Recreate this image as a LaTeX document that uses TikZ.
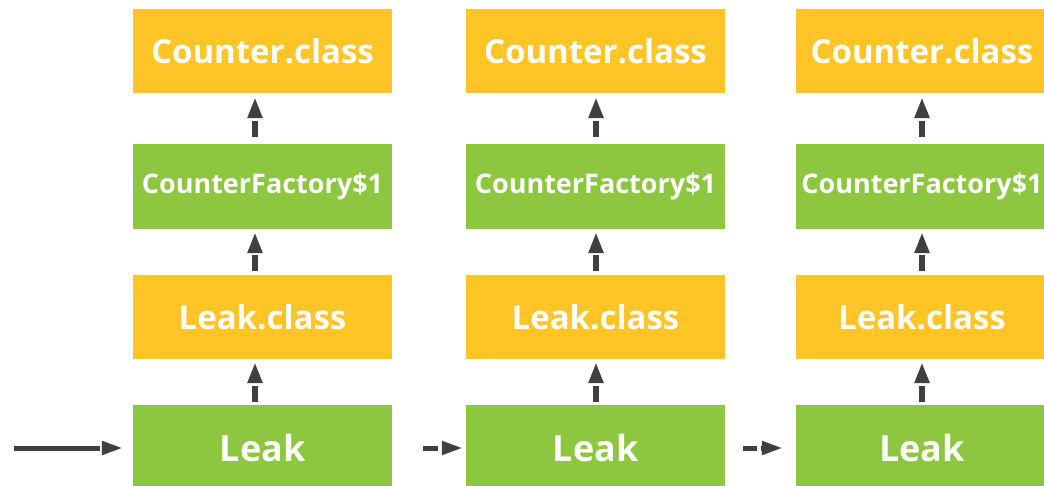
\documentclass[tikz,border=0pt]{standalone}
\usepackage{fontspec}
\setmainfont{Open Sans}
\usetikzlibrary{arrows.meta}
\definecolor{boxorange}{HTML}{FFC425}
\definecolor{boxgreen}{HTML}{8DC63F}
\definecolor{arrowgray}{HTML}{404043}
\tikzset{
  obox/.style={fill=boxorange, text=white, inner sep=0pt, font=\bfseries\fontsize{33}{36}\selectfont},
  gbox/.style={fill=boxgreen, text=white, inner sep=0pt},
  cftext/.style={font=\bfseries\fontsize{27}{30}\selectfont},
  leaktext/.style={font=\bfseries\fontsize{36}{40}\selectfont},
  refarrow/.style={draw=arrowgray, line width=6pt, dash pattern=on 16pt off 4pt,
     -{Triangle[length=21pt,width=14pt]}},
  harrow/.style={draw=arrowgray, line width=5pt,
     -{Triangle[length=21pt,width=13pt]}}
}
\begin{document}
\begin{tikzpicture}[x=1pt,y=-1pt]
\useasboundingbox (0,0) rectangle (1044,486);
% column 1
\node[obox, minimum width=259pt, minimum height=84pt] (cc1) at (262.5,51) {Counter.class};
\node[gbox, cftext, minimum width=259pt, minimum height=85pt] (cf1) at (262.5,186.5) {CounterFactory\$1};
\node[obox, minimum width=259pt, minimum height=84pt] (lc1) at (262.5,317) {Leak.class};
\node[gbox, leaktext, minimum width=259pt, minimum height=86pt] (lk1) at (262.5,448) {Leak};
% column 2
\node[obox, minimum width=259pt, minimum height=84pt] (cc2) at (595.5,51) {Counter.class};
\node[gbox, cftext, minimum width=259pt, minimum height=85pt] (cf2) at (595.5,186.5) {CounterFactory\$1};
\node[obox, minimum width=259pt, minimum height=84pt] (lc2) at (595.5,317) {Leak.class};
\node[gbox, leaktext, minimum width=259pt, minimum height=86pt] (lk2) at (595.5,448) {Leak};
% column 3
\node[obox, minimum width=252pt, minimum height=84pt] (cc3) at (922,51) {Counter.class};
\node[gbox, cftext, minimum width=252pt, minimum height=85pt] (cf3) at (922,186.5) {CounterFactory\$1};
\node[obox, minimum width=252pt, minimum height=84pt] (lc3) at (922,317) {Leak.class};
\node[gbox, leaktext, minimum width=252pt, minimum height=86pt] (lk3) at (922,448) {Leak};
% vertical arrows
\foreach \c/\dx in {1/-7.5, 2/0.5, 3/0} {
  \draw[refarrow, shorten <=7pt, shorten >=4pt] ([xshift=\dx pt]cf\c.north) -- ([xshift=\dx pt]cc\c.south);
  \draw[refarrow, shorten <=4pt, shorten >=3pt] ([xshift=\dx pt]lc\c.north) -- ([xshift=\dx pt]cf\c.south);
  \draw[refarrow, shorten <=3pt, shorten >=3pt] ([xshift=\dx pt]lk\c.north) -- ([xshift=\dx pt]lc\c.south);
}
% horizontal arrows
\coordinate (start) at (14,448);
\draw[harrow, dash pattern=on 86pt off 10pt, shorten >=10pt] (start) -- (lk1.west);
\draw[harrow, dash pattern=on 15pt off 4pt, shorten <=31pt, shorten >=3pt] (lk1.east) -- (lk2.west);
\draw[harrow, dash pattern=on 14pt off 4pt, shorten <=18pt, shorten >=13pt] (lk2.east) -- (lk3.west);
\end{tikzpicture}
\end{document}
